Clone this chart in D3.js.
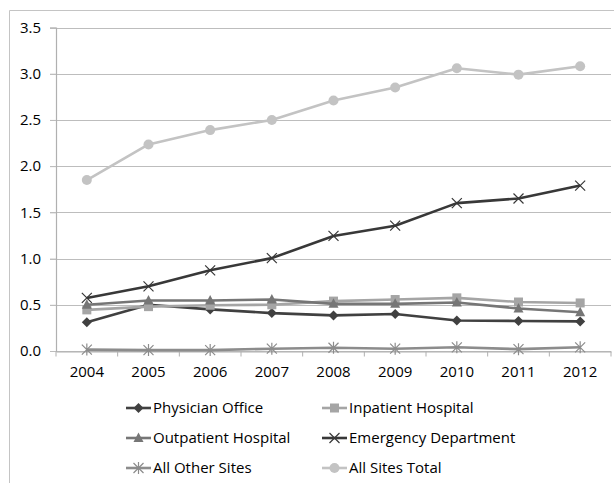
<!DOCTYPE html>
<html>
<head>
<meta charset="utf-8">
<script src="https://cdn.jsdelivr.net/npm/d3@7"></script>
<style>
  body { margin: 0; background: #fff; }
  text { font-family: "Open Sans", sans-serif; fill: #000; }
</style>
</head>
<body>
<svg id="chart" width="614" height="483"></svg>
<script>
const years = ['2004', '2005', '2006', '2007', '2008', '2009', '2010', '2011', '2012'];
const yTicks = [0, 0.5, 1.0, 1.5, 2.0, 2.5, 3.0, 3.5];

const physicianOffice = [0.31, 0.50, 0.45, 0.41, 0.385, 0.40, 0.33, 0.325, 0.32];
const inpatientHospital = [0.445, 0.48, 0.495, 0.50, 0.54, 0.557, 0.575, 0.53, 0.52];
const outpatientHospital = [0.50, 0.546, 0.546, 0.557, 0.51, 0.51, 0.525, 0.46, 0.42];
const emergencyDepartment = [0.574, 0.70, 0.873, 1.005, 1.245, 1.356, 1.60, 1.65, 1.79];
const allOtherSites = [0.015, 0.01, 0.01, 0.025, 0.035, 0.025, 0.04, 0.02, 0.04];
const allSitesTotal = [1.85, 2.235, 2.39, 2.50, 2.71, 2.85, 3.06, 2.99, 3.08];

const series = [
  { name: 'Physician Office', values: physicianOffice, color: '#404040', marker: 'diamond' },
  { name: 'Inpatient Hospital', values: inpatientHospital, color: '#a5a5a5', marker: 'square' },
  { name: 'Outpatient Hospital', values: outpatientHospital, color: '#767676', marker: 'triangle' },
  { name: 'Emergency Department', values: emergencyDepartment, color: '#383838', marker: 'x' },
  { name: 'All Other Sites', values: allOtherSites, color: '#8c8c8c', marker: 'star' },
  { name: 'All Sites Total', values: allSitesTotal, color: '#c3c3c3', marker: 'circle' },
];

const svg = d3.select('#chart');
const plot = { left: 56, right: 611, top: 27.5, bottom: 351 };

// chart frame (cut off at right and bottom like the original)
svg.append('path')
  .attr('d', 'M9.5,483 V10.5 H614')
  .attr('fill', 'none')
  .attr('stroke', '#c4c4c4')
  .attr('stroke-width', 1);

const x = d3.scaleBand().domain(years).range([plot.left, plot.right]);
const y = d3.scaleLinear().domain([0, 3.5]).range([plot.bottom, plot.top]);

// gridlines
svg.append('g')
  .selectAll('line')
  .data(yTicks)
  .join('line')
  .attr('x1', plot.left - 6)
  .attr('x2', plot.right)
  .attr('y1', (d) => Math.round(y(d)) + 0.5)
  .attr('y2', (d) => Math.round(y(d)) + 0.5)
  .attr('stroke', '#bdbdbd')
  .attr('stroke-width', 1.2);

// y axis
const yAxis = svg.append('g')
  .attr('transform', `translate(${plot.left},0)`)
  .call(d3.axisLeft(y).tickValues(yTicks).tickFormat(d3.format('.1f')).tickSize(6).tickPadding(9));
yAxis.select('.domain').attr('stroke', '#b0b0b0').attr('stroke-width', 1.2);
yAxis.selectAll('.tick line').attr('stroke', '#bdbdbd');
yAxis.selectAll('text').style('font-size', '15px').attr('fill', '#000');

// x axis
const xAxis = svg.append('g')
  .attr('transform', `translate(0,${Math.round(plot.bottom) + 0.5})`)
  .call(d3.axisBottom(x).tickSize(0).tickPadding(15));
xAxis.select('.domain').attr('stroke', '#b0b0b0').attr('stroke-width', 1.2);
xAxis.selectAll('text').style('font-size', '15px').attr('fill', '#000');
xAxis.selectAll('.bound')
  .data(d3.range(years.length + 1))
  .join('line')
  .attr('class', 'bound')
  .attr('x1', (i) => plot.left + i * x.step())
  .attr('x2', (i) => plot.left + i * x.step())
  .attr('y1', 0)
  .attr('y2', 5)
  .attr('stroke', '#b0b0b0');

const cx = (i) => x(years[i]) + x.bandwidth() / 2;

const drawMarker = (g, type, color) => {
  if (type === 'diamond') {
    g.append('path').attr('d', 'M0,-5L5,0L0,5L-5,0Z').attr('fill', color);
  } else if (type === 'square') {
    g.append('rect').attr('x', -4.5).attr('y', -4.5).attr('width', 9).attr('height', 9).attr('fill', color);
  } else if (type === 'triangle') {
    g.append('path').attr('d', 'M0,-5.5L5,4L-5,4Z').attr('fill', color);
  } else if (type === 'x') {
    g.append('path').attr('d', 'M-5,-5L5,5M5,-5L-5,5').attr('stroke', color).attr('stroke-width', 1.2);
  } else if (type === 'star') {
    g.append('path').attr('d', 'M-5,-5L5,5M5,-5L-5,5M0,-6V6').attr('stroke', color).attr('stroke-width', 1.2);
  } else if (type === 'circle') {
    g.append('circle').attr('r', 5).attr('fill', color);
  }
};

const line = d3.line().x((d, i) => cx(i)).y((d) => y(d));

series.forEach((s) => {
  const g = svg.append('g');
  g.append('path')
    .attr('d', line(s.values))
    .attr('fill', 'none')
    .attr('stroke', s.color)
    .attr('stroke-width', 2.6)
    .attr('stroke-linejoin', 'round');
  s.values.forEach((v, i) => {
    const m = g.append('g').attr('transform', `translate(${cx(i)},${y(v)})`);
    drawMarker(m, s.marker, s.color);
  });
});

// legend
const legendCols = [126, 322];
const legendRows = [408, 438, 468];
const legend = svg.append('g');
series.forEach((s, k) => {
  const lx = legendCols[k % 2];
  const ly = legendRows[Math.floor(k / 2)];
  const g = legend.append('g').attr('transform', `translate(${lx},${ly})`);
  g.append('line').attr('x1', 0).attr('x2', 25).attr('stroke', s.color).attr('stroke-width', 2.6);
  const m = g.append('g').attr('transform', 'translate(12.5,0)');
  drawMarker(m, s.marker, s.color);
  g.append('text')
    .attr('x', 27)
    .attr('dy', '0.35em')
    .style('font-size', '15px')
    .text(s.name);
});
</script>
</body>
</html>
